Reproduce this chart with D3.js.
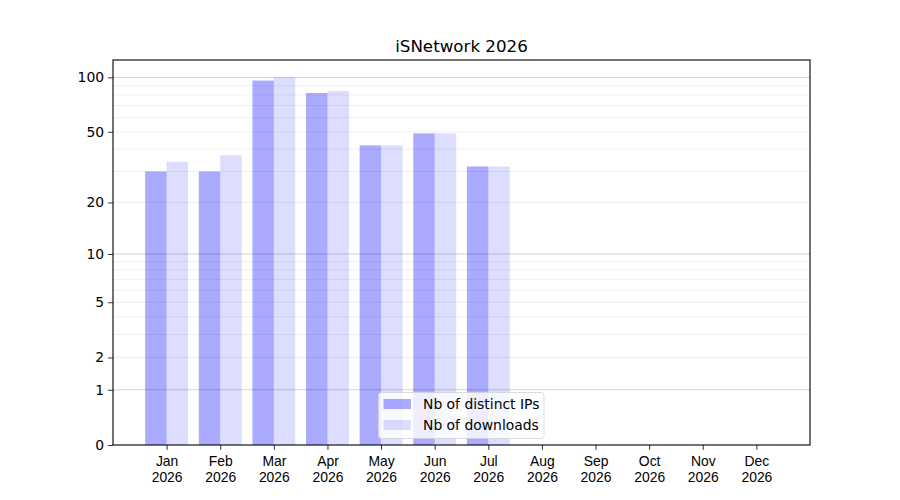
<!DOCTYPE html>
<html>
<head>
<meta charset="utf-8">
<script src="https://cdn.jsdelivr.net/npm/d3@7"></script>
<style>
  body { margin: 0; background: #fff; }
  svg { font-family: "DejaVu Sans", sans-serif; }
</style>
</head>
<body>
<div id="chart"></div>
<script>
const title = "iSNetwork 2026";
const months = ["Jan", "Feb", "Mar", "Apr", "May", "Jun", "Jul", "Aug", "Sep", "Oct", "Nov", "Dec"];
const year = "2026";
const distinctIPs = [30, 30, 96, 82, 42, 49, 32, 0, 0, 0, 0, 0];
const downloads = [34, 37, 100, 84, 42, 49, 32, 0, 0, 0, 0, 0];
const yTicks = [0, 1, 2, 5, 10, 20, 50, 100];
const majorGrid = [1, 10, 100];
const minorGrid = [2, 3, 4, 5, 6, 7, 8, 9, 20, 30, 40, 50, 60, 70, 80, 90];
const seriesNames = ["Nb of distinct IPs", "Nb of downloads"];

const W = 900, H = 500;
const margin = { top: 60, right: 90, bottom: 55, left: 113 };
const width = W - margin.left - margin.right,
      height = H - margin.top - margin.bottom;

const svg = d3.select("#chart").append("svg")
    .attr("width", W)
    .attr("height", H);

const g = svg.append("g")
    .attr("transform", "translate(" + margin.left + "," + margin.top + ")");

const x = d3.scaleLinear()
    .domain([-1, 12])
    .range([0, width]);

// log(1 + v) scale
const y = d3.scaleSymlog()
    .constant(1)
    .domain([0, 124.6])
    .range([height, 0]);

const barW = x(0.4) - x(0);

// grid
g.selectAll(".minor")
  .data(minorGrid)
  .enter().append("line")
    .attr("x1", 0).attr("x2", width)
    .attr("y1", d => y(d)).attr("y2", d => y(d))
    .attr("stroke", "#ebebeb")
    .attr("stroke-width", 0.8);

g.selectAll(".major")
  .data(majorGrid)
  .enter().append("line")
    .attr("x1", 0).attr("x2", width)
    .attr("y1", d => y(d)).attr("y2", d => y(d))
    .attr("stroke", "#c4c4c4")
    .attr("stroke-width", 0.8);

// bars
g.selectAll(".ips")
  .data(distinctIPs)
  .enter().append("rect")
    .attr("x", (d, i) => x(i) - barW)
    .attr("y", d => y(d))
    .attr("width", barW)
    .attr("height", d => height - y(d))
    .attr("fill", "blue")
    .attr("fill-opacity", 0.333);

g.selectAll(".dl")
  .data(downloads)
  .enter().append("rect")
    .attr("x", (d, i) => x(i))
    .attr("y", d => y(d))
    .attr("width", barW)
    .attr("height", d => height - y(d))
    .attr("fill", "blue")
    .attr("fill-opacity", 0.133);

// axes
const yAxis = g.append("g")
    .call(d3.axisLeft(y).tickValues(yTicks).tickFormat(d3.format("d")).tickSize(4.9).tickPadding(4));
yAxis.select(".domain").remove();

const xAxis = g.append("g")
    .attr("transform", "translate(0," + height + ")")
    .call(d3.axisBottom(x).tickValues(d3.range(12)).tickFormat("").tickSize(4.9));
xAxis.select(".domain").remove();

[yAxis, xAxis].forEach(a => {
  a.selectAll(".tick line").attr("stroke", "#000").attr("stroke-width", 0.8);
  a.selectAll("text").attr("font-size", "13.9px").attr("fill", "#000")
    .attr("font-family", "DejaVu Sans, sans-serif");
});

const labels = xAxis.selectAll(".tick").append("text")
    .attr("text-anchor", "middle")
    .attr("font-size", "13.9px")
    .attr("fill", "#000");
labels.append("tspan").attr("x", 0).attr("y", 20.5).text((d) => months[d]);
labels.append("tspan").attr("x", 0).attr("y", 36.5).text(year);

// frame
g.append("rect")
    .attr("width", width)
    .attr("height", height)
    .attr("fill", "none")
    .attr("stroke", "#000")
    .attr("stroke-width", 1.1);

// title
svg.append("text")
    .attr("x", margin.left + width / 2)
    .attr("y", margin.top - 8.5)
    .attr("text-anchor", "middle")
    .attr("font-size", "16.7px")
    .attr("fill", "#000")
    .text(title);

// legend
const lg = g.append("g")
    .attr("transform", "translate(" + (378.5 - margin.left) + "," + (392.5 - margin.top) + ")");
lg.append("rect")
    .attr("width", 165.5)
    .attr("height", 46)
    .attr("rx", 3)
    .attr("fill", "#fff")
    .attr("fill-opacity", 0.8)
    .attr("stroke", "#d3d3d3")
    .attr("stroke-width", 0.8);
seriesNames.forEach((name, i) => {
  lg.append("rect")
      .attr("x", 5)
      .attr("y", 6.5 + i * 21)
      .attr("width", 27.5)
      .attr("height", 10)
      .attr("fill", "blue")
      .attr("fill-opacity", i === 0 ? 0.333 : 0.133);
  lg.append("text")
      .attr("x", 44.5)
      .attr("y", 16.5 + i * 21)
      .attr("font-size", "13.9px")
      .attr("fill", "#000")
      .text(name);
});
</script>
</body>
</html>
